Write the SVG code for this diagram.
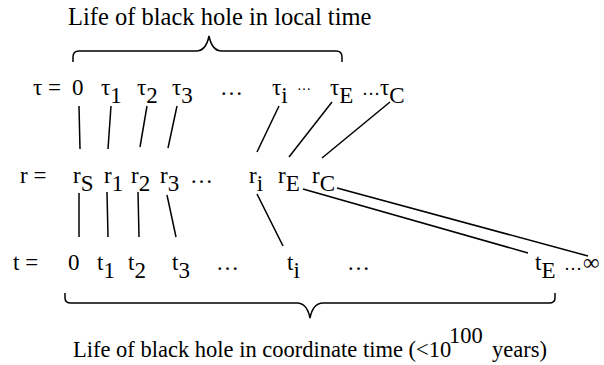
<svg xmlns="http://www.w3.org/2000/svg" width="604" height="365" viewBox="0 0 604 365">
<style>
text{font-family:"Liberation Serif","Times New Roman",serif;font-size:23px;fill:#000}
.sm{font-size:14px}
.md{font-size:18px}
.big{font-size:24.5px}
.bt{font-size:22.5px}
line,path{stroke:#000;stroke-width:1.5;fill:none}
</style>
<rect width="604" height="365" fill="#fff"/>
<g id="title-local"><text class="big" x="68" y="25">Life of black hole in local time</text></g>
<g id="brace-top"><path d="M73,62 V57 Q73,51 79,51 H196 Q206,51 209,36 Q212,51 222,51 H336 Q342,51 342,57 V62"/></g>
<g id="row-tau">
<text x="33" y="95">τ =</text>
<text x="72" y="95">0</text>
<text x="101" y="95">τ<tspan dy="8">1</tspan></text>
<text x="137" y="95">τ<tspan dy="8">2</tspan></text>
<text x="172" y="95">τ<tspan dy="8">3</tspan></text>
<text x="220" y="95">…</text>
<text x="272" y="95">τ<tspan dy="8">i</tspan></text>
<text class="sm" x="297" y="90">…</text>
<text x="330" y="95">τ<tspan dy="8">E</tspan></text>
<text class="md" x="362" y="95">…</text>
<text x="380" y="95">τ<tspan dy="8">C</tspan></text>
</g>
<g id="row-r">
<text x="20" y="183">r =</text>
<text x="73" y="183">r<tspan dy="8">S</tspan></text>
<text x="104" y="183">r<tspan dy="8">1</tspan></text>
<text x="131" y="183">r<tspan dy="8">2</tspan></text>
<text x="160" y="183">r<tspan dy="8">3</tspan></text>
<text x="190" y="183">…</text>
<text x="249" y="183">r<tspan dy="8">i</tspan></text>
<text x="278" y="183">r<tspan dy="8">E</tspan></text>
<text x="312" y="183">r<tspan dy="8">C</tspan></text>
</g>
<g id="row-t">
<text x="13" y="270">t =</text>
<text x="68" y="270">0</text>
<text x="97" y="270">t<tspan dy="8">1</tspan></text>
<text x="128" y="270">t<tspan dy="8">2</tspan></text>
<text x="172" y="270">t<tspan dy="8">3</tspan></text>
<text x="216" y="270">…</text>
<text x="287" y="270">t<tspan dy="8">i</tspan></text>
<text x="347" y="270">…</text>
<text x="535" y="270">t<tspan dy="8">E</tspan></text>
<text class="md" x="564" y="270">…</text>
<text x="583" y="270">∞</text>
</g>
<g id="connectors">
<line x1="79" y1="106" x2="80" y2="149"/>
<line x1="111" y1="106" x2="108" y2="149"/>
<line x1="147" y1="106" x2="140" y2="147"/>
<line x1="177" y1="106" x2="168" y2="148"/>
<line x1="279" y1="106" x2="257" y2="152"/>
<line x1="332" y1="102" x2="289" y2="157"/>
<line x1="390" y1="102" x2="322" y2="158"/>
<line x1="79" y1="193" x2="79" y2="237"/>
<line x1="107" y1="192" x2="108" y2="237"/>
<line x1="138" y1="192" x2="139" y2="237"/>
<line x1="167" y1="195" x2="176" y2="237"/>
<line x1="257" y1="194" x2="283" y2="246"/>
<line x1="303" y1="189" x2="528" y2="253"/>
<line x1="337" y1="188" x2="588" y2="256"/>
</g>
<g id="brace-bottom"><path d="M65,293 V298 Q65,303 71,303 H297 Q307,303 310,318 Q313,303 323,303 H549 Q555,303 555,298 V293"/></g>
<g id="title-coordinate"><text class="bt" x="73" y="357">Life of black hole in coordinate time (&lt;10<tspan x="449" y="343">100</tspan><tspan x="492" y="357">years)</tspan></text></g>
</svg>
